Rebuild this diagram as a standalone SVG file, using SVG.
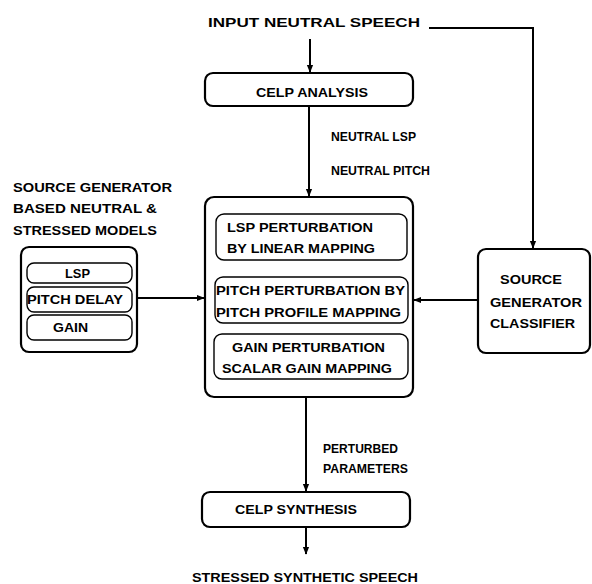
<svg xmlns="http://www.w3.org/2000/svg" width="592" height="584" viewBox="0 0 592 584">
<defs>
<style>
.t{font-family:"Liberation Sans",Arial,sans-serif;font-weight:bold;fill:#000;font-size:13px}
.b{fill:#fff;stroke:#000;stroke-width:2.2}
.s{fill:#fff;stroke:#000;stroke-width:1.4}
.c{fill:none;stroke:#000;stroke-width:2}
</style>
<marker id="ah" viewBox="0 0 10 10" refX="9" refY="5" markerWidth="4" markerHeight="4" orient="auto" markerUnits="strokeWidth">
<path d="M0,1 L10,5 L0,9 z" fill="#000"/>
</marker>
</defs>
<rect width="592" height="584" fill="#fff"/>
<g id="labels">
<text class="t" x="208" y="27" font-size="16" textLength="212" lengthAdjust="spacingAndGlyphs">INPUT  NEUTRAL SPEECH</text>
<text class="t" x="331" y="141" font-size="12" textLength="85" lengthAdjust="spacingAndGlyphs">NEUTRAL LSP</text>
<text class="t" x="331" y="175" font-size="12" textLength="99" lengthAdjust="spacingAndGlyphs">NEUTRAL PITCH</text>
<text class="t" x="13" y="192" font-size="14" textLength="159" lengthAdjust="spacingAndGlyphs">SOURCE GENERATOR</text>
<text class="t" x="13" y="213" font-size="14" textLength="144" lengthAdjust="spacingAndGlyphs">BASED NEUTRAL  &amp;</text>
<text class="t" x="13" y="235" font-size="14" textLength="144" lengthAdjust="spacingAndGlyphs">STRESSED MODELS</text>
<text class="t" x="323" y="453" font-size="12" textLength="75" lengthAdjust="spacingAndGlyphs">PERTURBED</text>
<text class="t" x="323" y="473" font-size="12" textLength="85" lengthAdjust="spacingAndGlyphs">PARAMETERS</text>
<text class="t" x="192" y="582" font-size="14" textLength="226" lengthAdjust="spacingAndGlyphs">STRESSED SYNTHETIC SPEECH</text>
</g>
<g id="connectors">
<line class="c" x1="310" y1="39" x2="310" y2="72" marker-end="url(#ah)"/>
<polyline class="c" points="429,28 533,28 533,248" marker-end="url(#ah)"/>
<line class="c" x1="309" y1="106" x2="309" y2="196" marker-end="url(#ah)"/>
<line class="c" x1="137" y1="298" x2="204" y2="298" marker-end="url(#ah)"/>
<line class="c" x1="478" y1="300" x2="414" y2="300" marker-end="url(#ah)"/>
<line class="c" x1="306" y1="398" x2="306" y2="491" marker-end="url(#ah)"/>
<line class="c" x1="306" y1="527" x2="306" y2="554" marker-end="url(#ah)"/>
</g>
<g id="celp-analysis">
<rect class="b" x="205" y="73" width="208" height="33" rx="8"/>
<text class="t" x="256" y="97" font-size="13.5" textLength="112" lengthAdjust="spacingAndGlyphs">CELP ANALYSIS</text>
</g>
<g id="main-block">
<rect class="b" x="205" y="197" width="208" height="200" rx="9"/>
</g>
<g id="lsp-perturbation">
<rect class="s" x="216" y="214" width="191" height="46" rx="8"/>
<text class="t" x="227" y="232" font-size="15" textLength="146" lengthAdjust="spacingAndGlyphs">LSP PERTURBATION</text>
<text class="t" x="227" y="253" font-size="15" textLength="148" lengthAdjust="spacingAndGlyphs">BY LINEAR MAPPING</text>
</g>
<g id="pitch-perturbation">
<rect class="s" x="215" y="277" width="193" height="46" rx="8"/>
<text class="t" x="216" y="295" font-size="15" textLength="189" lengthAdjust="spacingAndGlyphs">PITCH PERTURBATION  BY</text>
<text class="t" x="216" y="317" font-size="15" textLength="185" lengthAdjust="spacingAndGlyphs">PITCH PROFILE  MAPPING</text>
</g>
<g id="gain-perturbation">
<rect class="s" x="214" y="334" width="194" height="45" rx="8"/>
<text class="t" x="232" y="352" font-size="15" textLength="153" lengthAdjust="spacingAndGlyphs">GAIN PERTURBATION</text>
<text class="t" x="222" y="373" font-size="15" textLength="170" lengthAdjust="spacingAndGlyphs">SCALAR GAIN MAPPING</text>
</g>
<g id="models-block">
<rect class="b" x="21" y="247" width="116" height="105" rx="8"/>
</g>
<g id="model-lsp">
<rect class="s" x="27" y="263" width="105" height="20" rx="7"/>
<text class="t" x="65" y="278" font-size="14" textLength="25" lengthAdjust="spacingAndGlyphs">LSP</text>
</g>
<g id="model-pitch">
<rect class="s" x="27" y="287" width="105" height="25" rx="7"/>
<text class="t" x="27" y="304" font-size="14" textLength="96" lengthAdjust="spacingAndGlyphs">PITCH DELAY</text>
</g>
<g id="model-gain">
<rect class="s" x="27" y="315" width="105" height="25" rx="7"/>
<text class="t" x="53" y="332" font-size="14" textLength="35" lengthAdjust="spacingAndGlyphs">GAIN</text>
</g>
<g id="classifier">
<rect class="b" x="478" y="249" width="112" height="104" rx="8"/>
<text class="t" x="500" y="284" font-size="15" textLength="62" lengthAdjust="spacingAndGlyphs">SOURCE</text>
<text class="t" x="490" y="307" font-size="15" textLength="92" lengthAdjust="spacingAndGlyphs">GENERATOR</text>
<text class="t" x="490" y="328" font-size="15" textLength="85" lengthAdjust="spacingAndGlyphs">CLASSIFIER</text>
</g>
<g id="celp-synthesis">
<rect class="b" x="202" y="492" width="208" height="35" rx="8"/>
<text class="t" x="235" y="514" font-size="14" textLength="122" lengthAdjust="spacingAndGlyphs">CELP SYNTHESIS</text>
</g>
</svg>
